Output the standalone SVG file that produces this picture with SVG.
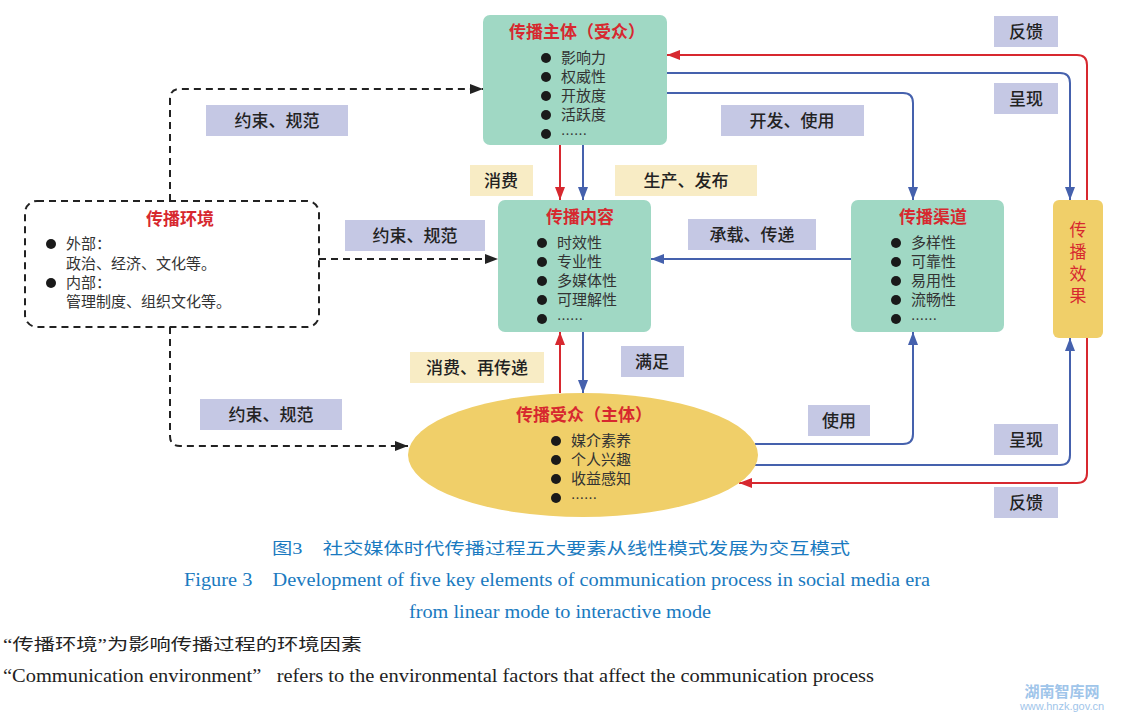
<svg xmlns="http://www.w3.org/2000/svg" width="1121" height="713" viewBox="0 0 1121 713">
<style>
.box{fill:#a0d8c4;}
.title{font-family:"Noto Sans CJK SC",sans-serif;font-size:17px;font-weight:bold;fill:#d7282f;text-anchor:middle;}
.item{font-family:"Noto Sans CJK SC",sans-serif;font-size:15px;fill:#333;}
.ell{font-family:"Noto Sans CJK SC",sans-serif;font-size:13px;fill:#333;}
.lbl{font-family:"Noto Sans CJK SC",sans-serif;font-size:17px;font-weight:500;fill:#222;text-anchor:middle;}
.lav{fill:#c5c8e4;}
.bei{fill:#f8ecc5;}
.dash{fill:none;stroke:#222;stroke-width:2;stroke-dasharray:7,5;}
.red{fill:none;stroke:#d7282f;stroke-width:2;}
.blue{fill:none;stroke:#4561ad;stroke-width:2;}
.cap{font-family:"Liberation Serif","Noto Sans CJK SC",serif;fill:#1a7ac0;}
.note{font-family:"Liberation Serif","Noto Sans CJK SC",serif;fill:#222;white-space:pre;}
.vert{font-family:"Noto Sans CJK SC",sans-serif;font-size:17px;fill:#d7282f;writing-mode:vertical-rl;letter-spacing:5px;}
</style>
<defs>
<marker id="ab" viewBox="0 0 13 10" refX="13" refY="5" markerWidth="13" markerHeight="10" markerUnits="userSpaceOnUse" orient="auto-start-reverse"><path d="M0,0 L13,5 L0,10 z" fill="#222"/></marker>
<marker id="ar" viewBox="0 0 13 10" refX="13" refY="5" markerWidth="13" markerHeight="10" markerUnits="userSpaceOnUse" orient="auto-start-reverse"><path d="M0,0 L13,5 L0,10 z" fill="#d7282f"/></marker>
<marker id="au" viewBox="0 0 13 10" refX="13" refY="5" markerWidth="13" markerHeight="10" markerUnits="userSpaceOnUse" orient="auto-start-reverse"><path d="M0,0 L13,5 L0,10 z" fill="#4561ad"/></marker>
</defs>
<rect width="1121" height="713" fill="#fff"/>

<g id="connectors">
<path class="dash" d="M170,201 V99 Q170,89 180,89 H483" marker-end="url(#ab)"/>
<path class="dash" d="M319,259 H498" marker-end="url(#ab)"/>
<path class="dash" d="M170,327 V436 Q170,446 180,446 H408" marker-end="url(#ab)"/>
<path class="red" d="M560,145 V200" marker-end="url(#ar)"/>
<path class="blue" d="M583,145 V200" marker-end="url(#au)"/>
<path class="blue" d="M583,332 V393" marker-end="url(#au)"/>
<path class="red" d="M560,393 V332" marker-end="url(#ar)"/>
<path class="blue" d="M851,259 H651" marker-end="url(#au)"/>
<path class="blue" d="M667,73 H1060 Q1070,73 1070,83 V200" marker-end="url(#au)"/>
<path class="blue" d="M667,93 H903 Q913,93 913,103 V200" marker-end="url(#au)"/>
<path class="blue" d="M755,444 H903 Q913,444 913,434 V332" marker-end="url(#au)"/>
<path class="blue" d="M755,465 H1060 Q1070,465 1070,455 V338" marker-end="url(#au)"/>
<path class="red" d="M739,483 H1077 Q1087,483 1087,473 V65 Q1087,55 1077,55 H667" marker-start="url(#ar)" marker-end="url(#ar)"/>
</g>

<g id="labels">
<rect class="lav" x="206" y="105" width="142" height="31"/><text class="lbl" x="277" y="127">约束、规范</text>
<rect class="lav" x="345" y="220" width="140" height="31"/><text class="lbl" x="415" y="242">约束、规范</text>
<rect class="lav" x="200" y="399" width="142" height="31"/><text class="lbl" x="271" y="421">约束、规范</text>
<rect class="lav" x="721" y="105" width="143" height="31"/><text class="lbl" x="792" y="127">开发、使用</text>
<rect class="lav" x="688" y="219" width="128" height="31"/><text class="lbl" x="752" y="241">承载、传递</text>
<rect class="lav" x="994" y="16" width="64" height="31"/><text class="lbl" x="1026" y="38">反馈</text>
<rect class="lav" x="994" y="83" width="64" height="31"/><text class="lbl" x="1026" y="105">呈现</text>
<rect class="lav" x="994" y="424" width="64" height="31"/><text class="lbl" x="1026" y="446">呈现</text>
<rect class="lav" x="994" y="487" width="64" height="31"/><text class="lbl" x="1026" y="509">反馈</text>
<rect class="lav" x="808" y="405" width="62" height="31"/><text class="lbl" x="839" y="427">使用</text>
<rect class="lav" x="621" y="346" width="63" height="31"/><text class="lbl" x="652" y="368">满足</text>
<rect class="bei" x="470" y="165" width="63" height="31"/><text class="lbl" x="501" y="187">消费</text>
<rect class="bei" x="615" y="165" width="142" height="31"/><text class="lbl" x="686" y="187">生产、发布</text>
<rect class="bei" x="410" y="352" width="134" height="31"/><text class="lbl" x="477" y="374">消费、再传递</text>
</g>

<g id="subject">
<rect class="box" x="483" y="15" width="184" height="130" rx="7"/>
<text class="title" x="577" y="38">传播主体（受众）</text>
<g fill="#1a1a1a"><circle cx="546" cy="58" r="5"/><circle cx="546" cy="77" r="5"/><circle cx="546" cy="96" r="5"/><circle cx="546" cy="115" r="5"/><circle cx="546" cy="134" r="5"/></g>
<text class="item" x="561" y="63">影响力</text>
<text class="item" x="561" y="82">权威性</text>
<text class="item" x="561" y="101">开放度</text>
<text class="item" x="561" y="120">活跃度</text>
<text class="ell" x="561" y="139">……</text>
</g>

<g id="environment">
<rect x="25" y="201" width="294" height="126" rx="12" fill="#fff" stroke="#222" stroke-width="2" stroke-dasharray="7,5"/>
<text class="title" x="180" y="225">传播环境</text>
<g fill="#1a1a1a"><circle cx="51" cy="244" r="5"/><circle cx="51" cy="283" r="5"/></g>
<text class="item" x="66" y="249">外部：</text>
<text class="item" x="66" y="269">政治、经济、文化等。</text>
<text class="item" x="66" y="288">内部：</text>
<text class="item" x="66" y="307">管理制度、组织文化等。</text>
</g>

<g id="content">
<rect class="box" x="498" y="200" width="153" height="132" rx="7"/>
<text class="title" x="580" y="223">传播内容</text>
<g fill="#1a1a1a"><circle cx="542" cy="243" r="5"/><circle cx="542" cy="262" r="5"/><circle cx="542" cy="281" r="5"/><circle cx="542" cy="300" r="5"/><circle cx="542" cy="319" r="5"/></g>
<text class="item" x="557" y="248">时效性</text>
<text class="item" x="557" y="267">专业性</text>
<text class="item" x="557" y="286">多媒体性</text>
<text class="item" x="557" y="305">可理解性</text>
<text class="ell" x="557" y="324">……</text>
</g>

<g id="channel">
<rect class="box" x="851" y="200" width="153" height="132" rx="7"/>
<text class="title" x="933" y="223">传播渠道</text>
<g fill="#1a1a1a"><circle cx="896" cy="243" r="5"/><circle cx="896" cy="262" r="5"/><circle cx="896" cy="281" r="5"/><circle cx="896" cy="300" r="5"/><circle cx="896" cy="319" r="5"/></g>
<text class="item" x="911" y="248">多样性</text>
<text class="item" x="911" y="267">可靠性</text>
<text class="item" x="911" y="286">易用性</text>
<text class="item" x="911" y="305">流畅性</text>
<text class="ell" x="911" y="324">……</text>
</g>

<g id="audience">
<ellipse cx="583" cy="455" rx="175" ry="62" fill="#f0cf69"/>
<text class="title" x="584" y="421">传播受众（主体）</text>
<g fill="#1a1a1a"><circle cx="556" cy="441" r="5"/><circle cx="556" cy="460" r="5"/><circle cx="556" cy="479" r="5"/><circle cx="556" cy="498" r="5"/></g>
<text class="item" x="571" y="446">媒介素养</text>
<text class="item" x="571" y="465">个人兴趣</text>
<text class="item" x="571" y="484">收益感知</text>
<text class="ell" x="571" y="503">……</text>
</g>

<g id="effect">
<rect x="1053" y="200" width="50" height="138" rx="6" fill="#f0cf69"/>
<text class="vert" x="1078" y="221">传播效果</text>
</g>

<g id="caption">
<text class="cap" x="272" y="554" font-size="16" textLength="578" lengthAdjust="spacingAndGlyphs">图3　社交媒体时代传播过程五大要素从线性模式发展为交互模式</text>
<text class="cap" x="184" y="586" font-size="19" textLength="746" lengthAdjust="spacingAndGlyphs">Figure 3　Development of five key elements of communication process in social media era</text>
<text class="cap" x="409" y="618" font-size="19" textLength="302" lengthAdjust="spacingAndGlyphs">from linear mode to interactive mode</text>
<text class="note" x="3" y="650" font-size="16" textLength="359" lengthAdjust="spacingAndGlyphs">“传播环境”为影响传播过程的环境因素</text>
<text class="note" x="3" y="682" font-size="18" textLength="871" lengthAdjust="spacingAndGlyphs">“Communication environment”   refers to the environmental factors that affect the communication process</text>
<text x="1062" y="697" font-family="Noto Sans CJK SC,sans-serif" font-size="15" font-weight="bold" fill="#9fc5ea" text-anchor="middle">湖南智库网</text>
<text x="1062" y="710" font-family="Liberation Sans,sans-serif" font-size="11" fill="#9fc5ea" text-anchor="middle">www.hnzk.gov.cn</text>
</g>
</svg>
